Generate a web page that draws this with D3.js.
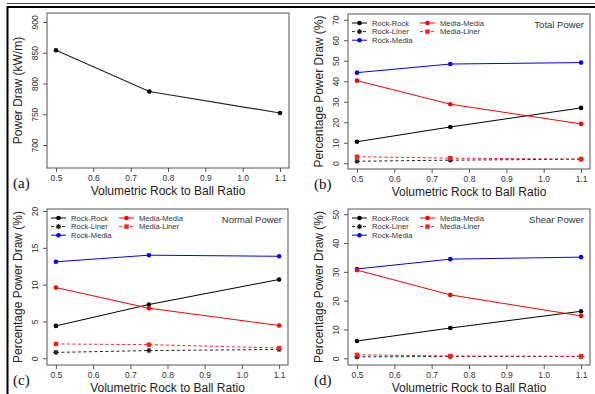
<!DOCTYPE html>
<html>
<head>
<meta charset="utf-8">
<script src="https://cdn.jsdelivr.net/npm/d3@7"></script>
<style>
  body { margin: 0; background: #fff; }
  svg { display: block; }
</style>
</head>
<body>
<svg class="svg"></svg>
<script>
// values
const ratios = [0.5, 0.75, 1.1];
const xTicks = [0.5, 0.6, 0.7, 0.8, 0.9, 1.0, 1.1];

const powerDraw = [854, 787, 752];
const powerTicks = [700, 750, 800, 850, 900];

const seriesNames = ['Rock-Rock', 'Rock-Liner', 'Rock-Media', 'Media-Media', 'Media-Liner'];
// one row per series, in seriesNames order
const totalPower = [
  [10.5, 17.7, 27.0],
  [1.0, 1.5, 2.0],
  [44.2, 48.4, 49.1],
  [40.3, 28.8, 19.2],
  [3.2, 2.5, 2.0]
];
const normalPower = [
  [4.4, 7.3, 10.7],
  [0.8, 1.05, 1.2],
  [13.1, 14.0, 13.85],
  [9.6, 6.8, 4.45],
  [1.95, 1.85, 1.4]
];
const shearPower = [
  [6.0, 10.5, 16.3],
  [0.5, 0.6, 0.6],
  [31.0, 34.4, 35.1],
  [30.6, 22.0, 14.7],
  [1.2, 0.8, 0.7]
];
const totalTicks = [0, 10, 20, 30, 40, 50, 60, 70];
const normalTicks = [0, 5, 10, 15, 20];
const shearTicks = [0, 10, 20, 30, 40, 50];

const panelTitles = ['Total Power', 'Normal Power', 'Shear Power'];
const panelLetters = ['(a)', '(b)', '(c)', '(d)'];
const xTitle = 'Volumetric Rock to Ball Ratio';

const width = 595;
const height = 394;
const sans = '"Liberation Sans", Arial, sans-serif';
const serif = '"Liberation Serif", "Times New Roman", serif';

const styles = {
  'Rock-Rock': { color: '#000', dash: null, shape: 'circle' },
  'Rock-Liner': { color: '#222', dash: '3,2.5', shape: 'star' },
  'Rock-Media': { color: '#0000ff', dash: null, shape: 'circle' },
  'Media-Media': { color: '#ff0000', dash: null, shape: 'circle' },
  'Media-Liner': { color: '#ff2020', dash: '3,2.5', shape: 'square' }
};

const svg = d3.select('.svg')
  .attr('width', width)
  .attr('height', height)
  .style('font-family', sans);

// outer frame (top + left edges are what shows)
svg.append('line').attr('x1', 7).attr('x2', width).attr('y1', 3.5).attr('y2', 3.5)
  .attr('stroke', '#444').attr('stroke-width', 1);
svg.append('line').attr('x1', 7).attr('x2', width).attr('y1', 7).attr('y2', 7)
  .attr('stroke', '#000').attr('stroke-width', 2);
svg.append('line').attr('x1', 7.5).attr('x2', 7.5).attr('y1', 6).attr('y2', height)
  .attr('stroke', '#000').attr('stroke-width', 2);

const panels = [
  { box: [47, 13, 289, 168], yDomain: [662.6, 914.6], yTicks: powerTicks, yTitle: 'Power Draw (kW/m)', series: null },
  { box: [348, 14, 590, 169], yDomain: [-2.8, 72.8], yTicks: totalTicks, yTitle: 'Percentage Power Draw (%)', series: totalPower, title: panelTitles[0] },
  { box: [47, 209, 288, 365], yDomain: [-0.91, 20.27], yTicks: normalTicks, yTitle: 'Percentage Power Draw (%)', series: normalPower, title: panelTitles[1] },
  { box: [348, 209, 590, 365], yDomain: [-2.33, 51.8], yTicks: shearTicks, yTitle: 'Percentage Power Draw (%)', series: shearPower, title: panelTitles[2] }
];

function marker(sel, shape, color) {
  if (shape === 'square') {
    sel.append('rect').attr('x', -2.2).attr('y', -2.2).attr('width', 4.4).attr('height', 4.4)
      .attr('fill', color);
  } else if (shape === 'star') {
    const s = 2.6, a = 1.9;
    sel.append('path')
      .attr('d', `M${-s},0H${s}M0,${-s}V${s}M${-a},${-a}L${a},${a}M${-a},${a}L${a},${-a}`)
      .attr('stroke', color).attr('stroke-width', 1.1).attr('fill', 'none');
    sel.append('circle').attr('r', 1.3).attr('fill', color);
  } else {
    sel.append('circle').attr('r', 2.3).attr('fill', color);
  }
}

panels.forEach((p, i) => {
  const [x0, y0, x1, y1] = p.box;
  const x = d3.scaleLinear().domain([0.476, 1.124]).range([x0, x1]);
  const y = d3.scaleLinear().domain(p.yDomain).range([y1, y0]);
  const g = svg.append('g');

  // x axis
  const xa = g.append('g')
    .attr('transform', `translate(0,${y1})`)
    .call(d3.axisBottom(x).tickValues(xTicks).tickFormat(d3.format('.1f'))
      .tickSize(4).tickSizeOuter(0).tickPadding(3));
  xa.select('.domain').remove();
  xa.selectAll('line').attr('stroke', '#555');
  xa.selectAll('text').attr('fill', '#333').style('font-size', '8.5px').style('font-family', sans);

  // y axis, labels parallel to the axis
  const ya = g.append('g')
    .attr('transform', `translate(${x0},0)`)
    .call(d3.axisLeft(y).tickValues(p.yTicks).tickSize(4).tickSizeOuter(0));
  ya.select('.domain').remove();
  ya.selectAll('line').attr('stroke', '#555');
  ya.selectAll('text')
    .attr('fill', '#333')
    .attr('x', 0).attr('y', -9).attr('dy', 0)
    .attr('text-anchor', 'middle')
    .attr('transform', 'rotate(-90)')
    .style('font-size', '8.5px').style('font-family', sans);

  g.append('rect')
    .attr('x', x0).attr('y', y0)
    .attr('width', x1 - x0).attr('height', y1 - y0)
    .attr('fill', 'none').attr('stroke', '#555').attr('stroke-width', 1);

  g.append('text')
    .attr('x', (x0 + x1) / 2).attr('y', y1 + 27)
    .attr('text-anchor', 'middle').attr('fill', '#222')
    .style('font-size', '12px')
    .text(xTitle);

  g.append('text')
    .attr('transform', `translate(${x0 - 25},${(y0 + y1) / 2}) rotate(-90)`)
    .attr('text-anchor', 'middle').attr('fill', '#222')
    .style('font-size', '12px')
    .text(p.yTitle);

  g.append('text')
    .attr('x', x0 - 34).attr('y', y1 + 20)
    .attr('fill', '#111')
    .style('font-family', serif).style('font-size', '15px')
    .text(panelLetters[i]);

  const line = d3.line().x((d, j) => x(ratios[j])).y(d => y(d));

  if (!p.series) {
    g.append('path').datum(powerDraw)
      .attr('d', line).attr('fill', 'none')
      .attr('stroke', '#222').attr('stroke-width', 1.2);
    g.selectAll('.pt').data(powerDraw).join('circle')
      .attr('cx', (d, j) => x(ratios[j])).attr('cy', d => y(d))
      .attr('r', 2.3).attr('fill', '#000');
    return;
  }

  p.series.forEach((vals, k) => {
    const st = styles[seriesNames[k]];
    g.append('path').datum(vals)
      .attr('d', line).attr('fill', 'none')
      .attr('stroke', st.color).attr('stroke-width', 1)
      .attr('stroke-dasharray', st.dash);
    vals.forEach((v, j) => {
      marker(g.append('g').attr('transform', `translate(${x(ratios[j])},${y(v)})`), st.shape, st.color);
    });
  });

  // legend, two columns
  const cols = [[0, 1, 2], [3, 4]];
  cols.forEach((col, c) => {
    col.forEach((k, r) => {
      const st = styles[seriesNames[k]];
      const lx = x0 + 4 + c * 68;
      const ly = y0 + 9 + r * 8.6;
      g.append('line')
        .attr('x1', lx).attr('x2', lx + 15).attr('y1', ly).attr('y2', ly)
        .attr('stroke', st.color).attr('stroke-width', 1)
        .attr('stroke-dasharray', st.dash);
      marker(g.append('g').attr('transform', `translate(${lx + 7.5},${ly})`), st.shape, st.color);
      g.append('text')
        .attr('x', lx + 20).attr('y', ly + 2.7)
        .attr('fill', '#333').style('font-size', '7.6px')
        .text(seriesNames[k]);
    });
  });

  g.append('text')
    .attr('x', x1 - 6).attr('y', y0 + 14)
    .attr('text-anchor', 'end').attr('fill', '#333')
    .style('font-size', '9.5px')
    .text(p.title);
});
</script>
</body>
</html>
